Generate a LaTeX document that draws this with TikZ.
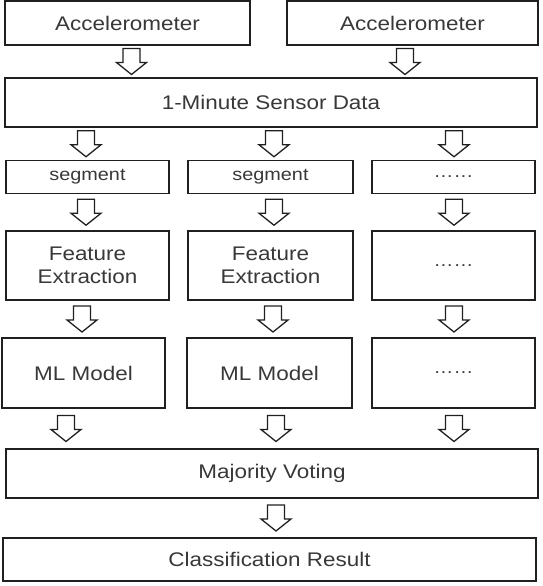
\documentclass[tikz,border=0pt]{standalone}
\usepackage{fontspec}
\setmainfont{Liberation Sans}[FakeStretch=1.14]
\usetikzlibrary{calc}
\definecolor{linegray}{HTML}{202020}
\definecolor{textgray}{HTML}{383838}

% hollow block arrow, centred between two boxes
\newcommand\flow[3]{%
  \path ($(#2.south)!.5!(#3.north)$) coordinate (mid);
  \pic at (#1,0 |- mid) {hollowarrow};}

\begin{document}
\begin{tikzpicture}[x=1pt,y=-1pt]
\tikzset{box/.style={draw=linegray, line width=1.8pt, text=textgray, inner sep=0pt,
    font=\fontsize{19.7}{23}\selectfont, align=center}}
\tikzset{small/.style={font=\fontsize{17.4}{20}\selectfont}}
\tikzset{hollowarrow/.pic={\draw[draw=linegray, line width=1.3pt, line join=miter]
    (-8.5,-13) -- (8.5,-13) -- (8.5,1) -- (15,1) -- (0,13) -- (-15,1) -- (-8.5,1) -- cycle;}}
\useasboundingbox (0,0) rectangle (542,586);

\node[box, minimum width=245pt, minimum height=44pt] (al) at (127.5,23) {Accelerometer};
\node[box, minimum width=251pt, minimum height=44pt] (ar) at (412.5,23) {Accelerometer};
\node[box, minimum width=532pt, minimum height=49pt] (d) at (271,102.5) {1-Minute Sensor Data};

\node[box, small, minimum width=163pt, minimum height=33pt] (s1) at (87.5,177) {segment};
\node[box, small, minimum width=165pt, minimum height=33pt] (s2) at (270.5,177) {segment};
\node[box, small, minimum width=163pt, minimum height=33pt] (s3) at (453.5,177) {……};

\node[box, minimum width=163pt, minimum height=69pt] (f1) at (87.5,265.5) {Feature\\Extraction};
\node[box, minimum width=165pt, minimum height=69pt] (f2) at (270.5,265.5) {Feature\\Extraction};
\node[box, small, minimum width=163pt, minimum height=69pt] (f3) at (453.5,265.5) {……};

\node[box, minimum width=163pt, minimum height=70pt] (m1) at (83.5,373) {ML Model};
\node[box, minimum width=165pt, minimum height=70pt] (m2) at (269.5,373) {ML Model};
\node[box, small, minimum width=163pt, minimum height=70pt] (m3) at (453.5,373) {……};

\node[box, minimum width=532pt, minimum height=49pt] (v) at (272,473.5) {Majority Voting};
\node[box, minimum width=533pt, minimum height=43pt] (c) at (269.5,559.5) {Classification Result};

\flow{131.5}{al}{d}
\flow{405}{ar}{d}
\flow{86}{d}{s1}
\flow{274}{d}{s2}
\flow{454}{d}{s3}
\flow{86}{s1}{f1}
\flow{274}{s2}{f2}
\flow{454}{s3}{f3}
\flow{82}{f1}{m1}
\flow{273}{f2}{m2}
\flow{454}{f3}{m3}
\flow{66}{m1}{v}
\flow{276}{m2}{v}
\flow{454}{m3}{v}
\flow{276}{v}{c}
\end{tikzpicture}
\end{document}
